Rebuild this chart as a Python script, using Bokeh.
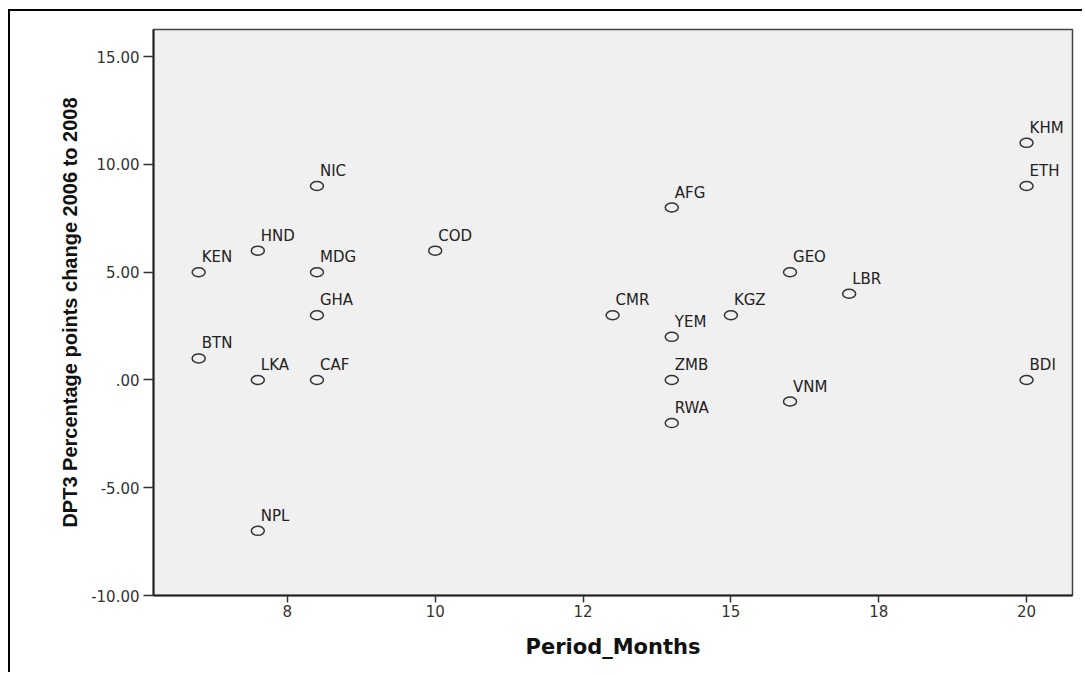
from bokeh.plotting import figure
from bokeh.models import ColumnDataSource, FixedTicker, Range1d
from bokeh.core.properties import value
from bokeh.embed import file_html
from bokeh.resources import INLINE

# ---- data ----
countries = ["KEN", "BTN", "HND", "LKA", "NPL", "NIC", "MDG", "GHA", "CAF", "COD",
             "CMR", "AFG", "YEM", "ZMB", "RWA", "KGZ", "GEO", "VNM", "LBR", "KHM",
             "ETH", "BDI"]
period_months = [6, 6, 7, 7, 7, 8, 8, 8, 8, 10,
                 13, 14, 14, 14, 14, 15, 16, 16, 17, 20,
                 20, 20]
dpt3_change = [5, 1, 6, 0, -7, 9, 5, 3, 0, 6,
               3, 8, 2, 0, -2, 3, 5, -1, 4, 11,
               9, 0]

x_tick_values = [7.5, 10, 12.5, 15, 17.5, 20]
x_tick_labels = ["8", "10", "12", "15", "18", "20"]
y_tick_values = [-10, -5, 0, 5, 10, 15]
y_tick_labels = ["-10.00", "-5.00", ".00", "5.00", "10.00", "15.00"]

src = ColumnDataSource(dict(x=period_months, y=dpt3_change, label=countries))

p = figure(width=1074, height=663, output_backend="svg", toolbar_location=None,
           x_range=Range1d(5.236, 20.777), y_range=Range1d(-10, 16.26),
           min_border_left=143, min_border_top=18, min_border_right=12,
           min_border_bottom=79)
p.styles = {"margin-left": "8px", "margin-top": "9px",
            "border-left": "2px solid black", "border-top": "2px solid black"}

p.background_fill_color = "#F0F0F0"
p.border_fill_color = "white"
p.outline_line_color = "#444444"
p.outline_line_width = 1.5
p.xgrid.visible = False
p.ygrid.visible = False

p.ellipse(x="x", y="y", width=13, height=9, width_units="screen", height_units="screen",
          source=src, fill_color=None, line_color="#333333", line_width=1.5)
p.text(x="x", y="y", text="label", source=src, x_offset=3, y_offset=-15,
       text_font=value("DejaVu Sans"), text_font_size="15px", text_color="#222222",
       text_align="left", text_baseline="alphabetic")

for ax in (p.xaxis[0], p.yaxis[0]):
    ax.axis_line_color = "#222222"
    ax.axis_line_width = 2
    ax.major_tick_line_color = "#333333"
    ax.major_tick_line_width = 1.5
    ax.major_tick_in = 0
    ax.minor_tick_line_color = None
    ax.major_label_text_font = "DejaVu Sans"
    ax.major_label_text_font_size = "15px"
    ax.major_label_text_color = "#333333"
    ax.axis_label_text_font_style = "bold"
    ax.axis_label_text_color = "#111111"

p.xaxis.ticker = FixedTicker(ticks=x_tick_values)
p.xaxis.major_label_overrides = dict(zip(x_tick_values, x_tick_labels))
p.xaxis.major_tick_out = 7
p.xaxis.major_label_standoff = 2
p.xaxis.axis_label = "Period_Months"
p.xaxis.axis_label_text_font = "DejaVu Sans"
p.xaxis.axis_label_text_font_size = "21px"
p.xaxis.axis_label_standoff = 15

p.yaxis.ticker = FixedTicker(ticks=y_tick_values)
p.yaxis.major_label_overrides = dict(zip(y_tick_values, y_tick_labels))
p.yaxis.major_tick_out = 10
p.yaxis.major_label_standoff = 4
p.yaxis.axis_label = "DPT3 Percentage points change 2006 to 2008"
p.yaxis.axis_label_text_font = "Liberation Sans"
p.yaxis.axis_label_text_font_size = "20px"
p.yaxis.axis_label_standoff = 7

open("out.html", "w").write(file_html(p, INLINE))
